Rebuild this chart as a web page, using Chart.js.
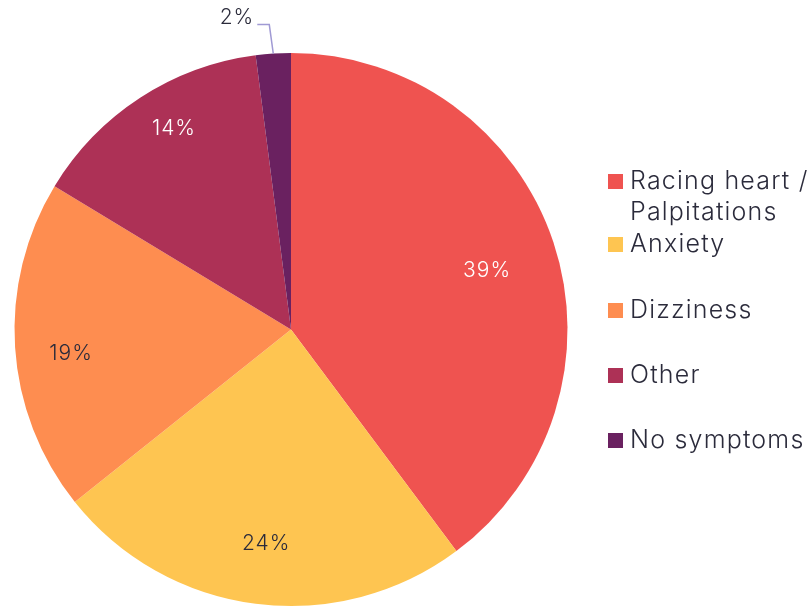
<!DOCTYPE html>
<html>
<head>
<meta charset="utf-8">
<script src="https://cdn.jsdelivr.net/npm/chart.js@4/dist/chart.umd.min.js"></script>
<style>
  html, body { margin: 0; padding: 0; background: #fff; }
  #wrap { width: 809px; height: 608px; position: relative; }
</style>
</head>
<body>
<div id="wrap"><canvas id="pie"></canvas></div>
<script>
// data
const labels = [['Racing heart /', 'Palpitations'], ['Anxiety'], ['Dizziness'], ['Other'], ['No symptoms']];
const values = [39, 24, 19, 14, 2];
const colors = ['#ef5350', '#fec551', '#fe8d50', '#ad3156', '#6a2160'];
const labelColors = ['#ffffff', '#2b2b3b', '#2b2b3b', '#ffffff', '#2b2b3b'];

const FONT = 'Inter, "Noto Sans", sans-serif';

// slice value labels, 2% gets a leader line outside
const sliceLabels = {
  id: 'sliceLabels',
  afterDatasetsDraw(chart) {
    const ctx = chart.ctx;
    const meta = chart.getDatasetMeta(0);
    const radFactor = [0.74, 0.78, 0.80, 0.84, 0];
    const angShift = [1.8, -0.75, -2.6, 2.8, 0];  // degrees
    ctx.save();
    ctx.font = '300 21px ' + FONT;
    ctx.letterSpacing = '1px';
    ctx.textAlign = 'center';
    ctx.textBaseline = 'middle';
    meta.data.forEach((arc, i) => {
      const mid = (arc.startAngle + arc.endAngle) / 2;
      const txt = values[i] + '%';
      if (radFactor[i] > 0) {
        const a = mid + angShift[i] * Math.PI / 180;
        const r = arc.outerRadius * radFactor[i];
        ctx.fillStyle = labelColors[i];
        ctx.fillText(txt, arc.x + Math.cos(a) * r, arc.y + Math.sin(a) * r);
      } else {
        // outside label with leader
        const ex = arc.x + Math.cos(mid) * arc.outerRadius;
        const ey = arc.y + Math.sin(mid) * arc.outerRadius;
        ctx.strokeStyle = '#a09ad4';
        ctx.lineWidth = 1.5;
        ctx.beginPath();
        ctx.moveTo(ex, ey);
        ctx.lineTo(ex - 4, ey - 29);
        ctx.lineTo(ex - 16, ey - 29);
        ctx.stroke();
        ctx.fillStyle = labelColors[i];
        ctx.textAlign = 'right';
        ctx.fillText(txt, ex - 19, ey - 36);
        ctx.textAlign = 'center';
      }
    });
    ctx.restore();
  }
};

// custom legend on the right
const sideLegend = {
  id: 'sideLegend',
  afterDraw(chart) {
    const ctx = chart.ctx;
    const ys = [181, 244, 310, 375, 440];
    ctx.save();
    ctx.font = '300 25px ' + FONT;
    ctx.letterSpacing = '1.2px';
    ctx.textBaseline = 'middle';
    ctx.textAlign = 'left';
    labels.forEach((lines, i) => {
      ctx.fillStyle = colors[i];
      ctx.fillRect(608, ys[i] - 7, 15, 15);
      ctx.fillStyle = '#2b2b3b';
      lines.forEach((t, j) => ctx.fillText(t, 630, ys[i] + j * 31));
    });
    ctx.restore();
  }
};

new Chart(document.getElementById('pie'), {
  type: 'pie',
  data: {
    labels: labels.map(l => l.join(' ')),
    datasets: [{
      data: values,
      backgroundColor: colors,
      borderWidth: 0
    }]
  },
  options: {
    responsive: true, maintainAspectRatio: false, animation: false,
    layout: { padding: { left: 14, right: 241, top: 53, bottom: 2 } },
    plugins: { legend: { display: false }, tooltip: { enabled: false } }
  },
  plugins: [sliceLabels, sideLegend]
});
</script>
</body>
</html>
